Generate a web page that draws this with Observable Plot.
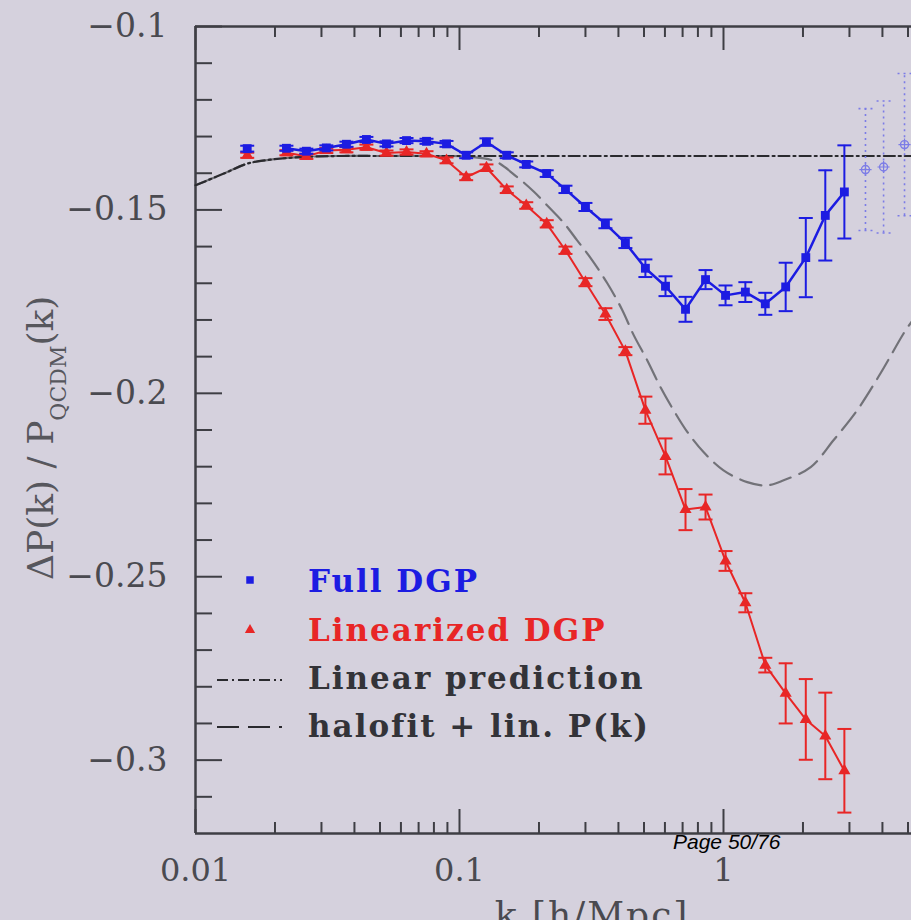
<!DOCTYPE html>
<html>
<head>
<meta charset="utf-8">
<script src="https://cdn.jsdelivr.net/npm/d3@7"></script>
<script src="https://cdn.jsdelivr.net/npm/@observablehq/plot@0.6"></script>
<style>
  html, body { margin: 0; padding: 0; background: #d5d1dd; overflow: hidden; }
</style>
</head>
<body>
<div id="chart"></div>
<script>
// ---- data ----
const kBins = [0.0157, 0.0221, 0.0263, 0.0313, 0.0373, 0.0444, 0.0529, 0.063, 0.075, 0.0893,
  0.106, 0.1265, 0.151, 0.179, 0.214, 0.252, 0.300, 0.357, 0.425, 0.506,
  0.603, 0.718, 0.855, 1.018, 1.21, 1.44, 1.72, 2.05, 2.43, 2.87];
const fullDGP = [-0.1333, -0.1332, -0.1340, -0.1331, -0.1321, -0.1308, -0.1320, -0.1311, -0.1313, -0.1320,
  -0.1351, -0.1315, -0.1351, -0.1376, -0.1401, -0.1444, -0.1492, -0.1538, -0.1590, -0.1659,
  -0.1708, -0.1771, -0.1690, -0.1733, -0.1724, -0.1756, -0.1710, -0.1630, -0.1515, -0.1451];
const fullErr = [0.0008, 0.0007, 0.0007, 0.0007, 0.0007, 0.0007, 0.0007, 0.0007, 0.0007, 0.0008,
  0.0008, 0.0010, 0.0008, 0.0008, 0.0009, 0.0010, 0.0011, 0.0012, 0.0014, 0.0024,
  0.0027, 0.0034, 0.0026, 0.0027, 0.0027, 0.0030, 0.0066, 0.0108, 0.0123, 0.0127];
const linDGP = [-0.1351, -0.1344, -0.1354, -0.1338, -0.1336, -0.1329, -0.1345, -0.1342, -0.1347, -0.1365,
  -0.1411, -0.1385, -0.1445, -0.1488, -0.1538, -0.1610, -0.1697, -0.1784, -0.1885, -0.2046,
  -0.2172, -0.2317, -0.2310, -0.2457, -0.2571, -0.2741, -0.2818, -0.2889, -0.2934, -0.3029];
const linErr = [0.0007, 0.0007, 0.0007, 0.0007, 0.0007, 0.0007, 0.0007, 0.0007, 0.0007, 0.0008,
  0.0008, 0.0009, 0.0009, 0.0009, 0.0010, 0.0010, 0.0011, 0.0016, 0.0011, 0.0037,
  0.0049, 0.0056, 0.0034, 0.0027, 0.0026, 0.0020, 0.0082, 0.0110, 0.0118, 0.0114];

const kLinear = [0.01, 0.0128, 0.0157, 0.0192, 0.025, 0.035, 0.05, 0.1, 0.5, 1, 5.154];
const linearPred = [-0.1433, -0.1401, -0.1374, -0.1363, -0.1356, -0.1353, -0.1353, -0.1353, -0.1353, -0.1353, -0.1353];

const kHalofit = [0.01, 0.0128, 0.0157, 0.0192, 0.025, 0.035, 0.05, 0.08, 0.11, 0.137, 0.165, 0.191,
  0.221, 0.248, 0.279, 0.313, 0.363, 0.413, 0.456, 0.514, 0.577, 0.647, 0.729, 0.84, 1.0,
  1.23, 1.46, 1.69, 2.14, 2.61, 3.21, 3.93, 4.81, 5.154];
const halofit = [-0.1433, -0.1401, -0.1374, -0.1363, -0.1356, -0.1353, -0.1353, -0.1353, -0.1355, -0.1368,
  -0.1410, -0.1450, -0.1497, -0.1535, -0.1583, -0.1630, -0.1700, -0.1772, -0.1840, -0.1910,
  -0.1983, -0.2046, -0.2105, -0.2160, -0.2210, -0.2242, -0.2251, -0.2237, -0.2201, -0.2128,
  -0.2046, -0.1946, -0.1837, -0.1805];

const kFaint = [3.45, 4.04, 4.85];
const faintVal = [-0.1390, -0.1383, -0.1322];
const faintErr = [0.0166, 0.0180, 0.0194];

const xMajorTicks = [0.01, 0.1, 1];
const xTickLabels = ["0.01", "0.1", "1"];
const xMinorTicks = [0.02, 0.03, 0.04, 0.05, 0.06, 0.07, 0.08, 0.09,
  0.2, 0.3, 0.4, 0.5, 0.6, 0.7, 0.8, 0.9, 2, 3, 4, 5];
const yMajorTicks = [-0.1, -0.15, -0.2, -0.25, -0.3];
const yTickLabels = ["\u22120.1", "\u22120.15", "\u22120.2", "\u22120.25", "\u22120.3"];
const yMinorTicks = [-0.11, -0.12, -0.13, -0.14, -0.16, -0.17, -0.18, -0.19,
  -0.21, -0.22, -0.23, -0.24, -0.26, -0.27, -0.28, -0.29, -0.31];

const legendLabels = ["Full DGP", "Linearized DGP", "Linear prediction", "halofit + lin. P(k)"];

// ---- styles ----
const BG = "#d5d1dd";
const BLUE = "#1c1ce2";
const RED = "#e82626";
const INK = "#3e3e44";
const FAINT = "#7c7ce6";

const W = 911, H = 920, ML = 195, MT = 26, MB = 87, MR = 0;
const PW = W - ML - MR, PH = H - MT - MB;

const full = kBins.map((k, i) => ({k, v: fullDGP[i], e: fullErr[i]}));
const lin = kBins.map((k, i) => ({k, v: linDGP[i], e: linErr[i]}));
const faint = kFaint.map((k, i) => ({k, v: faintVal[i], e: faintErr[i]}));
const xLab = xMajorTicks.map((k, i) => ({k, t: xTickLabels[i]}));
const yLab = yMajorTicks.map((v, i) => ({v, t: yTickLabels[i]}));

const capSym = {draw(ctx, size) { const w = Math.sqrt(size / Math.PI); ctx.moveTo(-w, 0); ctx.lineTo(w, 0); }};

function errMarks(rows, color, width, r, dash) {
  return [
    Plot.ruleX(rows, {x: "k", y1: d => d.v - d.e, y2: d => d.v + d.e, stroke: color, strokeWidth: width, strokeDasharray: dash}),
    Plot.dot(rows, {x: "k", y: d => d.v + d.e, symbol: capSym, r, stroke: color, strokeWidth: width, strokeDasharray: dash}),
    Plot.dot(rows, {x: "k", y: d => d.v - d.e, symbol: capSym, r, stroke: color, strokeWidth: width, strokeDasharray: dash})
  ];
}

const svg = Plot.plot({
  width: W, height: H,
  marginLeft: ML, marginRight: MR, marginTop: MT, marginBottom: MB,
  x: {type: "log", domain: [0.01, 5.154], axis: null},
  y: {domain: [-0.32, -0.1], axis: null},
  style: {background: BG, fontFamily: "DejaVu Serif", overflow: "hidden"},
  marks: [
    // ticks (inward)
    Plot.ruleX(xMajorTicks, {x: d => d, insetTop: PH - 24, stroke: INK, strokeWidth: 2}),
    Plot.ruleX(xMajorTicks, {x: d => d, insetBottom: PH - 24, stroke: INK, strokeWidth: 2}),
    Plot.ruleX(xMinorTicks, {x: d => d, insetTop: PH - 11, stroke: INK, strokeWidth: 2}),
    Plot.ruleX(xMinorTicks, {x: d => d, insetBottom: PH - 11, stroke: INK, strokeWidth: 2}),
    Plot.ruleY(yMajorTicks, {y: d => d, insetRight: PW - 27, stroke: INK, strokeWidth: 2}),
    Plot.ruleY(yMinorTicks, {y: d => d, insetRight: PW - 17, stroke: INK, strokeWidth: 2}),
    // frame (left, top, bottom)
    Plot.ruleX([0.01], {stroke: INK, strokeWidth: 2.5}),
    Plot.ruleY([-0.1, -0.32], {stroke: INK, strokeWidth: 2.5}),
    // tick labels
    Plot.text(xLab, {x: "k", text: "t", frameAnchor: "bottom", lineAnchor: "bottom", dy: 47,
      fontSize: 32, fill: "#4a4a50", style: "letter-spacing:2px"}),
    Plot.text(yLab, {y: "v", text: "t", frameAnchor: "left", textAnchor: "end", lineAnchor: "middle", dx: -28,
      fontSize: 33, fill: "#4a4a50"}),
    // model curves
    Plot.line(kHalofit.map((k, i) => ({k, v: halofit[i]})), {x: "k", y: "v", curve: "catmull-rom",
      stroke: "#727278", strokeWidth: 2.2, strokeDasharray: "22,9"}),
    Plot.line(kLinear.map((k, i) => ({k, v: linearPred[i]})), {x: "k", y: "v", curve: "catmull-rom",
      stroke: "#2a2a2e", strokeWidth: 2.2, strokeDasharray: "11,4,2,4"}),
    // faint extra points
    ...errMarks(faint, FAINT, 1.6, 7, "2,4"),
    Plot.dot(faint, {x: "k", y: "v", r: 4, stroke: FAINT, strokeWidth: 1.4}),
    Plot.dot(faint, {x: "k", y: "v", symbol: "plus", r: 4, stroke: FAINT, strokeWidth: 1.2}),
    // linearized DGP
    Plot.line(lin.slice(1), {x: "k", y: "v", stroke: RED, strokeWidth: 2}),
    ...errMarks(lin, RED, 2, 7),
    Plot.dot(lin, {x: "k", y: "v", symbol: "triangle", r: 4.5, fill: RED, stroke: "none"}),
    // full DGP
    Plot.line(full.slice(1), {x: "k", y: "v", stroke: BLUE, strokeWidth: 2.5}),
    ...errMarks(full, BLUE, 2, 7),
    Plot.dot(full, {x: "k", y: "v", symbol: "square", r: 5, fill: BLUE, stroke: "none"})
  ]
});

const s = d3.select(svg);

// y axis label
const yl = s.append("text")
  .attr("transform", "translate(53,580) rotate(-90)")
  .attr("text-anchor", "start")
  .attr("font-family", "DejaVu Serif")
  .attr("font-size", 36)
  .attr("fill", "#57575d");
yl.append("tspan").text("\u0394P(k) / P");
yl.append("tspan").attr("font-size", 22).attr("dy", 13).text("QCDM");
yl.append("tspan").attr("dy", -13).text("(k)");

// x axis label (cut by the page bottom, as in the reference)
s.append("text").attr("x", 592).attr("y", 927).attr("text-anchor", "middle")
  .attr("font-family", "DejaVu Serif").attr("font-size", 36).attr("fill", "#4a4a50")
  .attr("letter-spacing", 2)
  .text("k [h/Mpc]");

// legend
const lg = s.append("g").attr("font-family", "DejaVu Serif").attr("font-weight", "bold")
  .attr("font-size", 31).attr("text-anchor", "start").attr("letter-spacing", 2);
const rowsY = [592, 641, 689, 737];
const colors = [BLUE, RED, "#333338", "#333338"];
legendLabels.forEach((t, i) => {
  lg.append("text").attr("x", 308).attr("y", rowsY[i]).attr("text-anchor", "start").attr("fill", colors[i]).text(t);
});
lg.append("path").attr("d", d3.symbol(d3.symbolSquare, 56)()).attr("transform", "translate(250,580)").attr("fill", BLUE);
lg.append("path").attr("d", d3.symbol(d3.symbolTriangle, 46)()).attr("transform", "translate(250,630)").attr("fill", RED);
lg.append("line").attr("x1", 217).attr("x2", 282).attr("y1", 680).attr("y2", 680)
  .attr("stroke", "#2a2a2e").attr("stroke-width", 2.2).attr("stroke-dasharray", "11,4,2,4");
lg.append("line").attr("x1", 217).attr("x2", 282).attr("y1", 727).attr("y2", 727)
  .attr("stroke", "#2a2a2e").attr("stroke-width", 2.2).attr("stroke-dasharray", "22,9");

// page marker
s.append("text").attr("x", 673).attr("y", 849).attr("text-anchor", "start").attr("font-family", "Liberation Sans")
  .attr("font-style", "italic").attr("font-size", 21).attr("fill", "#000").text("Page 50/76");

document.getElementById("chart").appendChild(svg);
</script>
</body>
</html>
